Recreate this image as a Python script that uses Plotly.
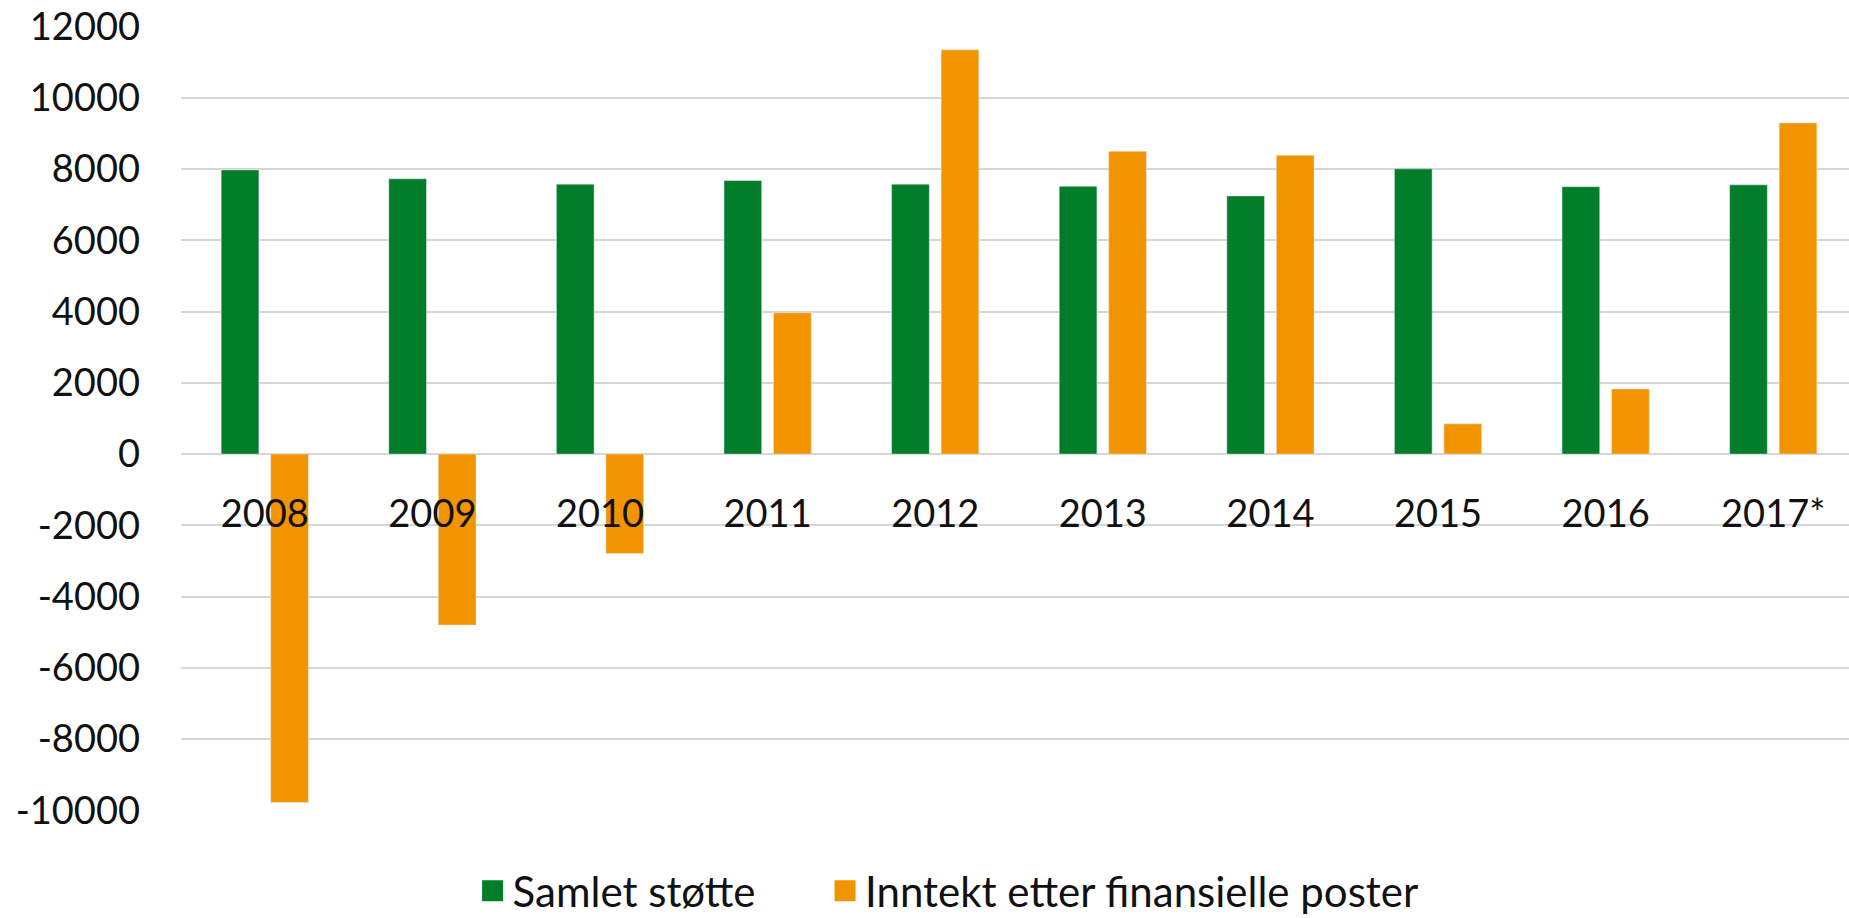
import plotly.graph_objects as go

years = ["2008", "2009", "2010", "2011", "2012", "2013", "2014", "2015", "2016", "2017*"]
samlet_stotte = [7980, 7730, 7580, 7680, 7580, 7520, 7250, 8010, 7510, 7560]
inntekt = [-9780, -4800, -2790, 3970, 11350, 8500, 8390, 850, 1830, 9300]

y_tick_values = [-10000, -8000, -6000, -4000, -2000, 0, 2000, 4000, 6000, 8000, 10000, 12000]
y_tick_labels = ["-10000", "-8000", "-6000", "-4000", "-2000", "0",
                 "2000", "4000", "6000", "8000", "10000", "12000"]

series_names = ["Samlet støtte", "Inntekt etter finansielle poster"]

GREEN = "#027E2B"
ORANGE = "#F29400"
FONT = "Lato"
TXT = "#111111"
NBSP = "\u00a0"

Y_MIN, Y_MAX = -10020, 12020

fig = go.Figure()
fig.add_trace(go.Bar(x=years, y=samlet_stotte, name=series_names[0],
                     marker=dict(color=GREEN), showlegend=False))
fig.add_trace(go.Bar(x=years, y=inntekt, name=series_names[1],
                     marker=dict(color=ORANGE), showlegend=False))
# legend entries with larger square symbols
fig.add_trace(go.Scatter(x=[None], y=[None], mode="markers", name=series_names[0] + NBSP * 6,
                         marker=dict(symbol="square", size=16, color=GREEN,
                                     line=dict(color=GREEN, width=5))))
fig.add_trace(go.Scatter(x=[None], y=[None], mode="markers", name=series_names[1],
                         marker=dict(symbol="square", size=16, color=ORANGE,
                                     line=dict(color=ORANGE, width=5))))

fig.update_layout(
    width=1849, height=918,
    margin=dict(l=181, r=0, t=26, b=107, autoexpand=False),
    paper_bgcolor="white", plot_bgcolor="white",
    barmode="group", bargap=0.409, bargroupgap=0.238,
    font=dict(family=FONT, size=38, color=TXT),
    legend=dict(orientation="h", x=0.1748, xanchor="left", y=-0.102, yanchor="middle",
                font=dict(family=FONT, size=42, color=TXT), itemsizing="trace"),
    xaxis=dict(type="category", range=[-0.5, 9.452], anchor="free",
               position=-Y_MIN / (Y_MAX - Y_MIN),
               showgrid=False, showline=False, zeroline=False, ticks="", automargin=False,
               ticklabelstandoff=34, tickfont=dict(family=FONT, size=38, color=TXT)),
    yaxis=dict(range=[Y_MIN, Y_MAX], tickvals=y_tick_values, ticktext=y_tick_labels,
               showgrid=True, automargin=False, ticklabeloverflow="allow",
               gridcolor="#D6D6D6", gridwidth=2, zeroline=True, zerolinecolor="#D6D6D6",
               zerolinewidth=2, showline=False, ticks="", ticklabelstandoff=40,
               tickfont=dict(family=FONT, size=38, color=TXT)),
)

# remove the default 8px page margin so the figure fills the window exactly
fig.write_html("out.html", config={"displayModeBar": False},
               post_script="document.body.style.margin='0px';")
